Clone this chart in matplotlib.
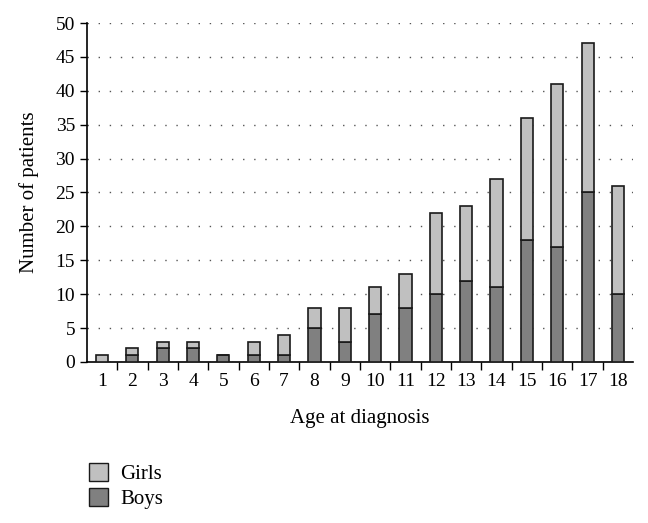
import numpy as np
import matplotlib
matplotlib.use("Agg")
from matplotlib import pyplot as plt
from matplotlib.patches import Patch

# data
ages = list(range(1, 19))
boys = [0, 1, 2, 2, 1, 1, 1, 5, 3, 7, 8, 10, 12, 11, 18, 17, 25, 10]
girls = [1, 1, 1, 1, 0, 2, 3, 3, 5, 4, 5, 12, 11, 16, 18, 24, 22, 16]

plt.rcParams['font.family'] = ['Liberation Serif', 'DejaVu Serif']

fig = plt.figure(figsize=(6.48, 5.23), dpi=100)
ax = fig.add_axes([0.134, 0.308, 0.843, 0.648])

x = np.array(ages)
ax.bar(x, boys, width=0.4, color='#808080', edgecolor='#1a1a1a', linewidth=1.2, zorder=3)
ax.bar(x, girls, width=0.4, bottom=boys, color='#c0c0c0', edgecolor='#1a1a1a', linewidth=1.2, zorder=3)

ax.set_xlim(0.5, 18.5)
ax.set_ylim(0, 50)
ax.set_yticks(range(0, 51, 5))
ax.set_xticks(x)
ax.set_xticklabels([str(a) for a in ages])
ax.set_xticks(np.arange(1.5, 18.5, 1), minor=True)
ax.tick_params(axis='x', which='major', length=0, labelsize=14, pad=8)
ax.tick_params(axis='x', which='minor', length=6, width=1, direction='out')
ax.tick_params(axis='y', length=5, width=1, labelsize=14)

ax.yaxis.grid(True, linestyle=(0, (1, 7)), color='#555555', linewidth=1, zorder=0)
for s in ['top', 'right']:
    ax.spines[s].set_visible(False)
ax.spines['left'].set_linewidth(1.2)
ax.spines['bottom'].set_linewidth(1.2)

ax.set_xlabel("Age at diagnosis", fontsize=15, labelpad=14)
ax.set_ylabel("Number of patients", fontsize=15, labelpad=12)

handles = [Patch(facecolor='#c0c0c0', edgecolor='#1a1a1a', label='Girls'),
           Patch(facecolor='#808080', edgecolor='#1a1a1a', label='Boys')]
fig.legend(handles=handles, loc='upper left', bbox_to_anchor=(0.125, 0.13),
           frameon=False, fontsize=15, handlelength=0.9, handleheight=0.9,
           labelspacing=0.2, handletextpad=0.6, borderaxespad=0)

fig.savefig("out.png", dpi=100)
